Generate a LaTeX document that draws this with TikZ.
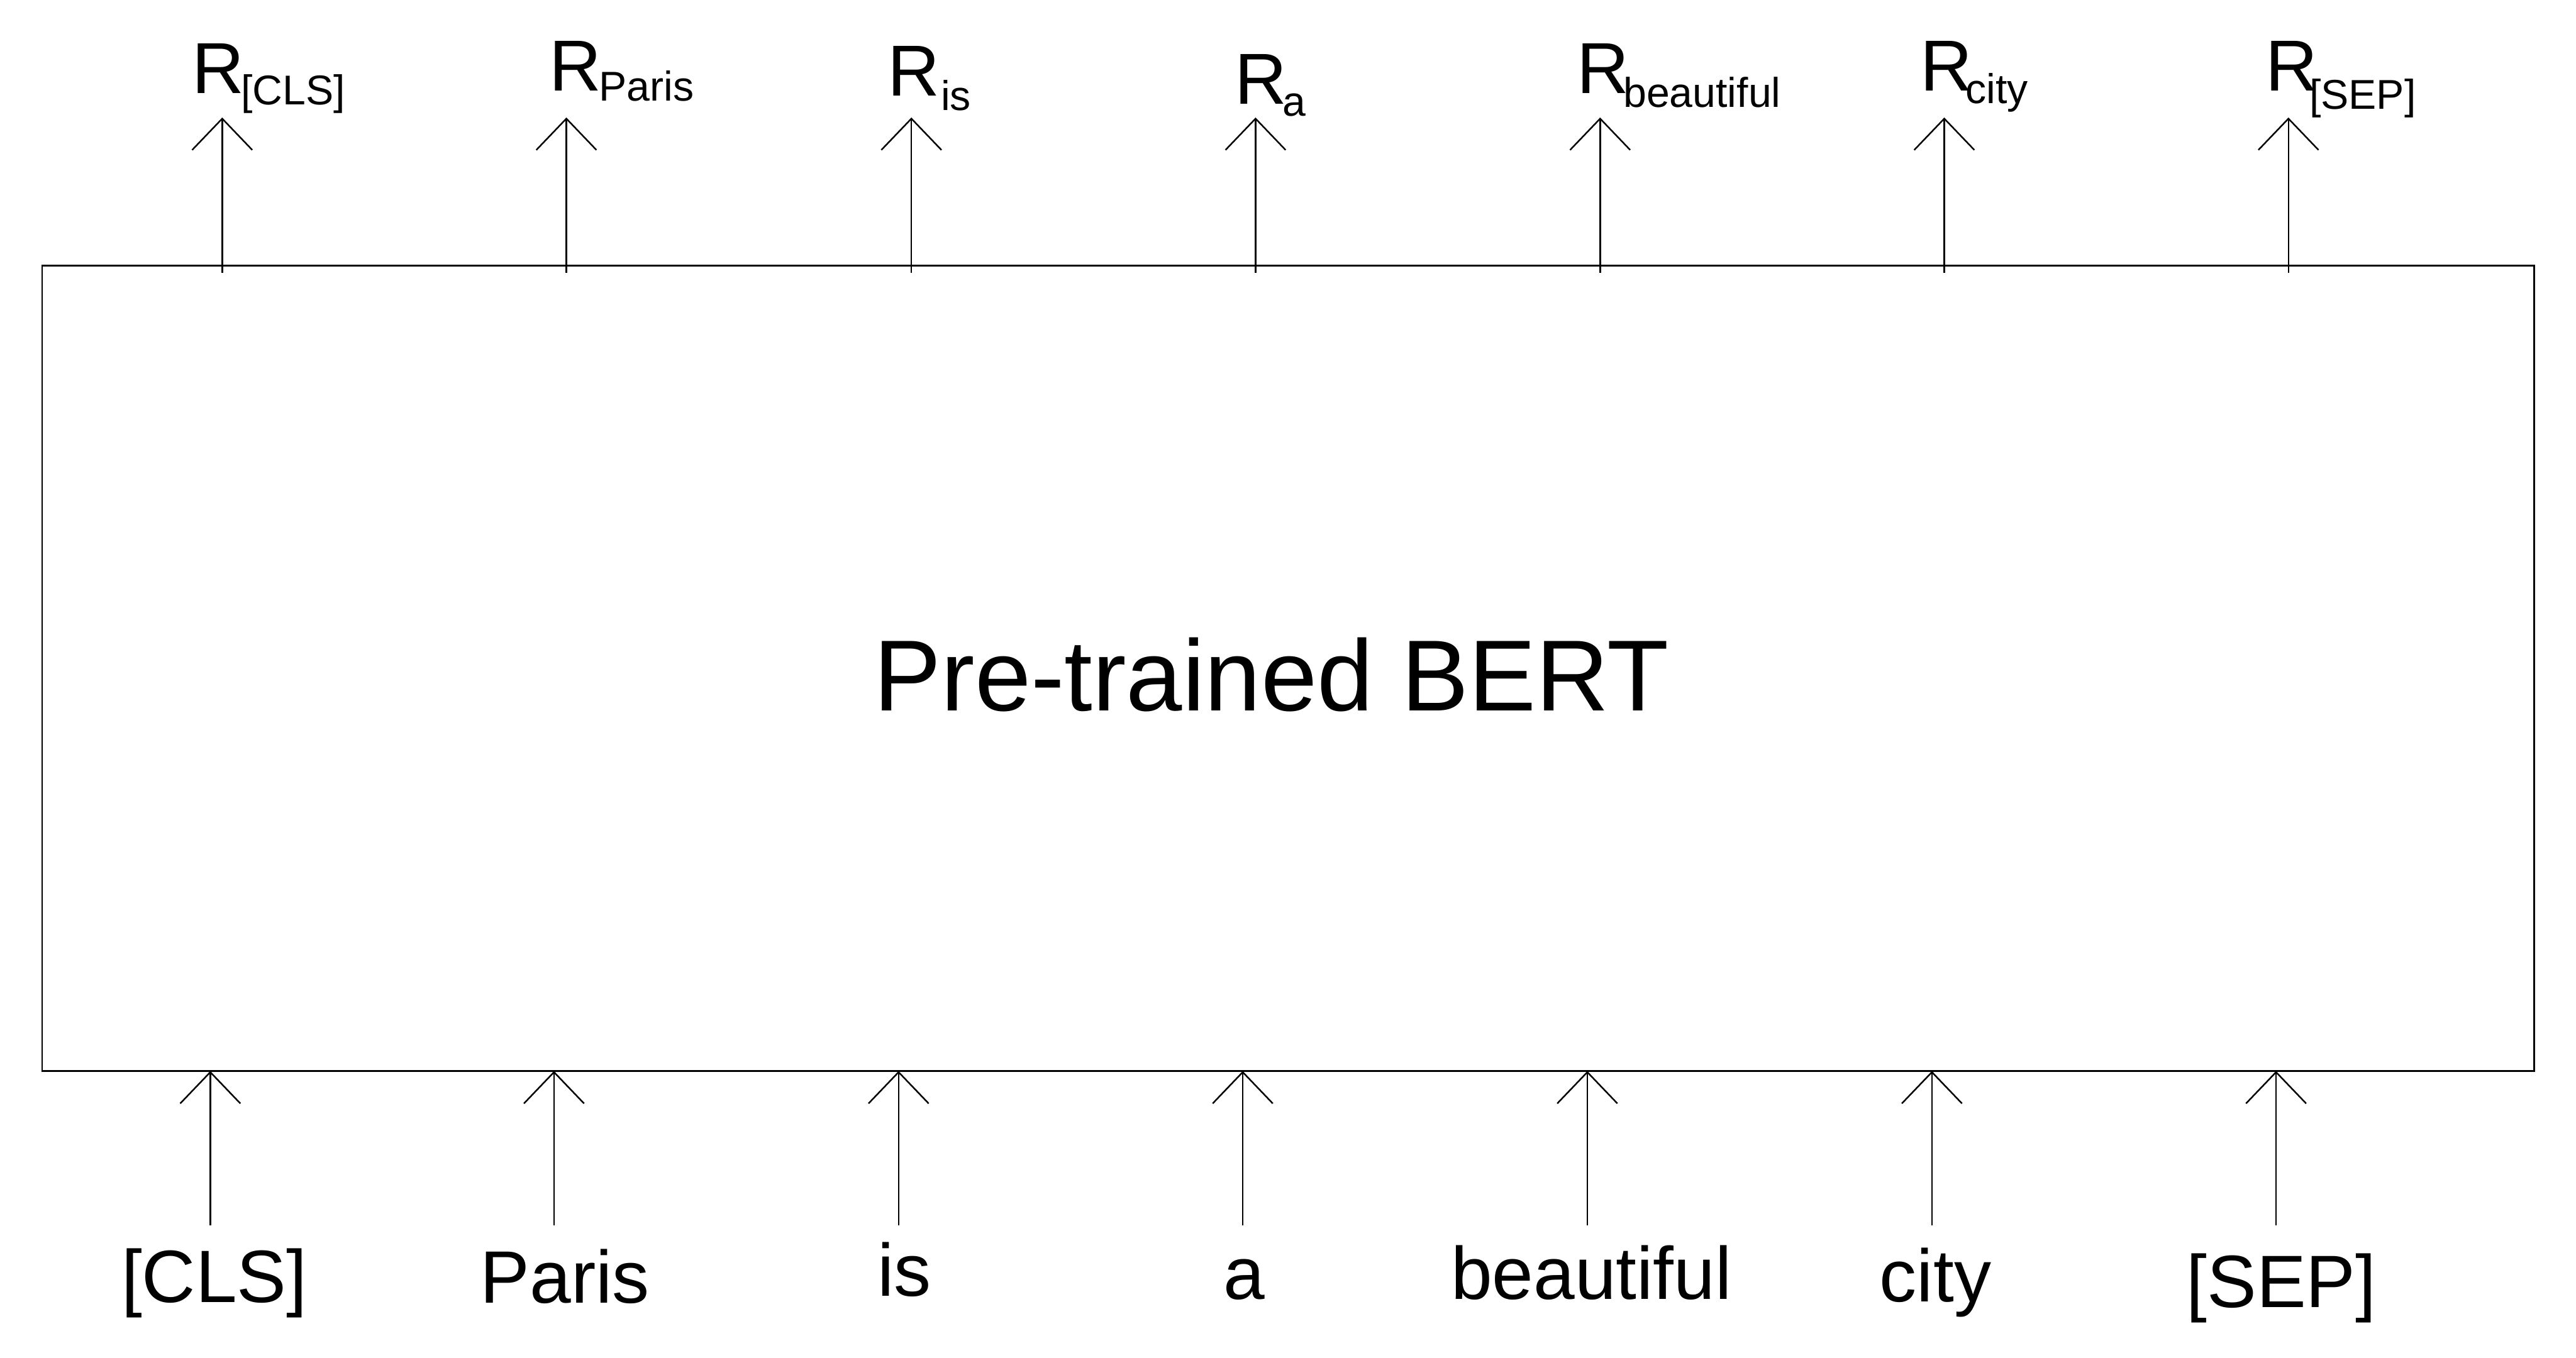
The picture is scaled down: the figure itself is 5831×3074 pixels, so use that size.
\documentclass[tikz,border=0pt]{standalone}
\usepackage{fontspec}
\setmainfont{Liberation Sans}
\usetikzlibrary{arrows.meta}
\begin{document}
\begin{tikzpicture}[x=0.01cm,y=-0.01cm,
  box/.style={draw, line width=1.15pt, rectangle, inner sep=0pt, minimum width=56.38cm, minimum height=18.23cm},
  title/.style={font=\fontsize{65}{78}\selectfont, inner sep=0pt, anchor=base},
  rmain/.style={font=\fontsize{46.5}{56}\selectfont, inner sep=0pt, anchor=base west},
  rsub/.style={font=\fontsize{26.8}{32}\selectfont, inner sep=0pt, anchor=base west},
  tok/.style={font=\fontsize{47.8}{57}\selectfont, inner sep=0pt, anchor=base},
  flow/.style={line width=1pt, -{Straight Barb[length=0.71cm, width=1.36cm, line width=1pt]}}]
\useasboundingbox (0,0) rectangle (5831,3074);
\node[box] (bert) at (2916,1513.5) {};
\node[title] (title) at (2878,1609) {Pre-trained BERT};
% top arrows
\foreach \n/\x in {1/503,2/1282,3/2063,4/2842,5/3622,6/4401,7/5180}{
  \coordinate (ts\n) at (\x,618);
  \coordinate (te\n) at (\x,266);
  \draw[flow] (ts\n) -- (te\n);
}
% bottom arrows
\foreach \n/\x in {1/476,2/1254,3/2034,4/2813,5/3593,6/4373,7/5152}{
  \coordinate (bs\n) at (\x,2775);
  \coordinate (be\n) at (\x,2425);
  \draw[flow] (bs\n) -- (be\n);
}
% top labels
\node[rmain] (R1) at (434,211) {R};
\node[rsub]  (S1) at (545,237) {[CLS]};
\node[rmain] (R2) at (1243,205) {R};
\node[rsub]  (S2) at (1355,228) {Paris};
\node[rmain] (R3) at (2009,217) {R};
\node[rsub]  (S3) at (2129,250) {is};
\node[rmain] (R4) at (2795,236) {R};
\node[rsub]  (S4) at (2902,262) {a};
\node[rmain] (R5) at (3569,211) {R};
\node[rsub]  (S5) at (3674,243) {beautiful};
\node[rmain] (R6) at (4346,205) {R};
\node[rsub]  (S6) at (4449,234) {city};
\node[rmain] (R7) at (5127,205) {R};
\node[rsub]  (S7) at (5227,247) {[SEP]};
% bottom tokens
\node[tok] (w1) at (485,2949) {[CLS]};
\node[tok] (w2) at (1279,2950) {Paris};
\node[tok] (w3) at (2047,2935) {is};
\node[tok] (w4) at (2816,2942) {a};
\node[tok] (w5) at (3602,2942) {beautiful};
\node[tok] (w6) at (4381,2948) {city};
\node[tok] (w7) at (5164,2960) {[SEP]};
\end{tikzpicture}
\end{document}
